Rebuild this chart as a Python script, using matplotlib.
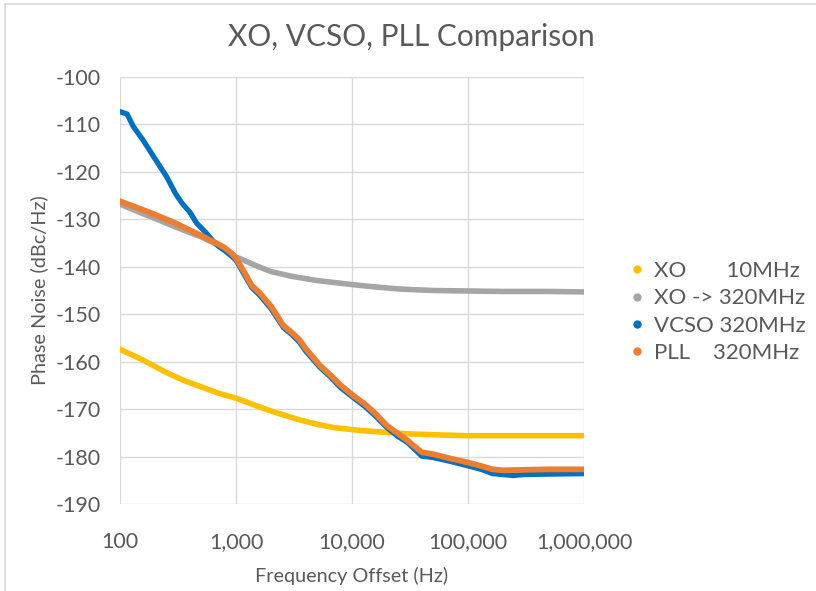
import numpy as np
import matplotlib
matplotlib.use('Agg')
import matplotlib.pyplot as plt
from matplotlib.lines import Line2D
from matplotlib.ticker import FixedLocator, FuncFormatter

plt.rcParams['font.family'] = ['Lato', 'DejaVu Sans']
plt.rcParams['axes.unicode_minus'] = False

# phase noise data (Hz, dBc/Hz)
xo_f = [100, 150, 200, 252, 350, 500, 700, 1000, 1500, 2000, 3570, 5000, 7000, 11700, 19800, 30000, 50000, 98000, 200000, 500000, 1000000]
xo_pn = [-157.4, -159.4, -161.0, -162.3, -163.9, -165.3, -166.6, -167.7, -169.3, -170.4, -172.3, -173.2, -173.9, -174.5, -174.9, -175.2, -175.4, -175.6, -175.6, -175.6, -175.6]

xo320_f = [100, 150, 200, 300, 400, 500, 700, 1000, 1500, 2000, 3000, 5000, 9600, 15000, 26000, 50000, 98000, 200000, 500000, 1000000]
xo320_pn = [-126.8, -128.6, -129.8, -131.6, -132.8, -133.7, -135.4, -137.9, -139.8, -141.0, -142.0, -142.9, -143.7, -144.2, -144.7, -145.0, -145.1, -145.2, -145.2, -145.3]

vcso_f = [100, 115, 130, 160, 194, 252, 300, 340, 400, 458, 550, 636, 700, 800, 900, 1000, 1200, 1370, 1600, 2000, 2560, 3000, 3500, 4000, 5290, 6500, 8000, 10300, 13000, 16000, 19800, 25000, 30000, 39900, 50000, 70000, 98000, 130000, 163000, 200000, 246000, 300000, 500000, 1000000]
vcso_pn = [-107.3, -107.8, -110.4, -113.5, -116.7, -121.0, -124.5, -126.5, -128.5, -130.8, -132.8, -134.6, -135.6, -136.6, -137.6, -138.6, -142.0, -144.4, -146.0, -148.8, -152.8, -154.2, -155.8, -157.8, -161.2, -163.2, -165.5, -167.6, -169.5, -171.5, -173.8, -175.8, -177.0, -179.9, -180.2, -181.0, -181.9, -182.7, -183.6, -183.8, -184.0, -183.8, -183.7, -183.6]

pll_f = [100, 150, 200, 300, 400, 500, 600, 700, 800, 900, 1000, 1200, 1370, 1600, 2000, 2560, 3000, 3500, 4000, 5290, 6500, 8000, 10300, 13000, 16000, 19800, 25000, 30000, 39900, 50000, 70000, 98000, 130000, 163000, 200000, 300000, 500000, 1000000]
pll_pn = [-126.2, -127.8, -129.0, -130.8, -132.3, -133.4, -134.4, -135.2, -136.0, -137.0, -138.2, -141.5, -144.0, -145.5, -148.3, -152.4, -153.8, -155.3, -157.3, -160.8, -162.8, -165.0, -167.2, -169.0, -171.0, -173.4, -175.2, -176.6, -179.1, -179.5, -180.4, -181.2, -182.0, -182.7, -182.9, -182.8, -182.7, -182.7]

labels = ['XO       10MHz', 'XO -> 320MHz', 'VCSO 320MHz', 'PLL    320MHz']
colors = ['#FFC000', '#A5A5A5', '#0070C0', '#ED7D31']
x_ticks = [100, 1000, 10000, 100000, 1000000]
y_ticks = list(range(-190, -99, 10))

txt = '#595959'
grid = '#D9D9D9'

fig = plt.figure(figsize=(8.16, 5.91), dpi=100)
ax = fig.add_axes([120/816, 1-504/591, (584-120)/816, (504-77)/591])

ax.plot(xo_f, xo_pn, color=colors[0], lw=4.0, solid_capstyle='round', zorder=3)
ax.plot(xo320_f, xo320_pn, color=colors[1], lw=4.0, solid_capstyle='round', zorder=3)
ax.plot(vcso_f, vcso_pn, color=colors[2], lw=3.8, solid_capstyle='round', zorder=4)
ax.plot(pll_f, pll_pn, color=colors[3], lw=4.2, solid_capstyle='round', zorder=5)

ax.set_xscale('log')
ax.set_xlim(100, 1000000)
ax.set_ylim(-190, -100)
ax.xaxis.set_major_locator(FixedLocator(x_ticks))
ax.xaxis.set_minor_locator(FixedLocator([]))
ax.xaxis.set_major_formatter(FuncFormatter(lambda v, p: f'{int(round(v)):,}'))
ax.set_yticks(y_ticks)
ax.grid(True, color=grid, lw=1.0)
ax.set_axisbelow(True)
for s in ax.spines.values():
    s.set_visible(False)
ax.tick_params(length=0, labelsize=15.5, labelcolor=txt)
ax.tick_params(axis='x', pad=20)
ax.tick_params(axis='y', pad=14)

ax.set_xlabel('Frequency Offset (Hz)', fontsize=14.3, color=txt, labelpad=11)
ax.set_ylabel('Phase Noise (dBc/Hz)', fontsize=14.3, color=txt, labelpad=5)
fig.text(411/816, 1-37/591, 'XO, VCSO, PLL Comparison', fontsize=21.5, color=txt, ha='center', va='center')

handles = [Line2D([], [], ls='none', marker='o', ms=5, color=c) for c in colors]
fig.legend(handles, labels, loc='center left', bbox_to_anchor=(608/816, 1-312/591), frameon=False,
           fontsize=16, labelcolor=txt, handlelength=0.8, handletextpad=0.35, labelspacing=0.33)

# chart area border
fig.add_artist(Line2D([5/816, 1], [1-4/591, 1-4/591], color='#D9D9D9', lw=1.2))
fig.add_artist(Line2D([5/816, 5/816], [0, 1-4/591], color='#D9D9D9', lw=1.2))

fig.savefig('out.png', dpi=100)
